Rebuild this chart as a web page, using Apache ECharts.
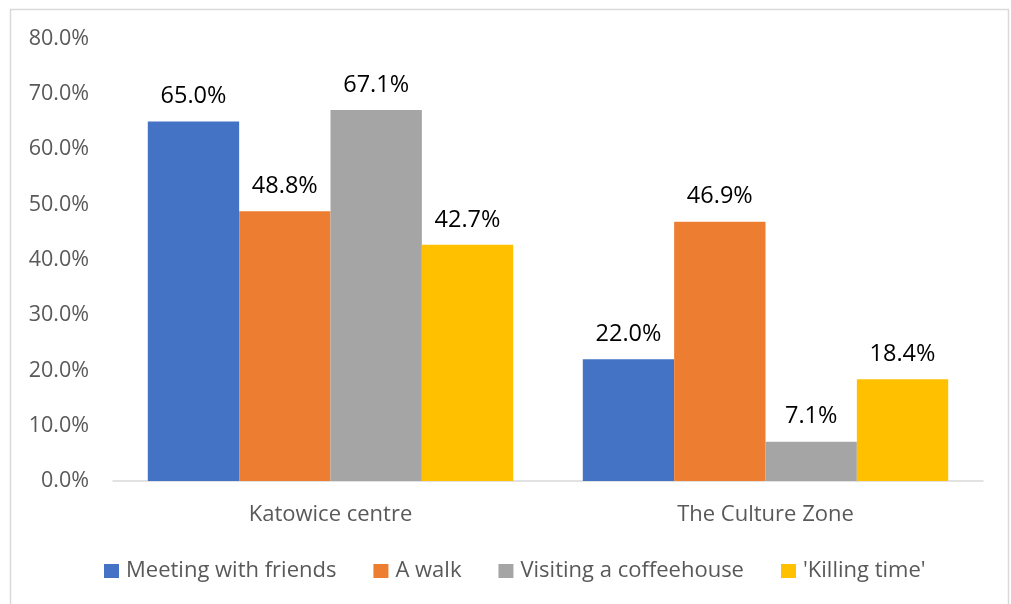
<!DOCTYPE html>
<html>
<head>
<meta charset="utf-8">
<script src="https://cdn.jsdelivr.net/npm/echarts@6/dist/echarts.min.js"></script>
<style>
  html, body { margin: 0; padding: 0; background: #fff; }
  #chart { width: 1011px; height: 604px; }
</style>
</head>
<body>
<div id="chart"></div>
<script>
// Places and activities compared (share of respondents, %)
const categories = ['Katowice centre', 'The Culture Zone'];
const seriesNames = ['Meeting with friends', 'A walk', 'Visiting a coffeehouse', "'Killing time'"];
const meetingWithFriends = [65.0, 22.0];
const aWalk = [48.8, 46.9];
const visitingCoffeehouse = [67.1, 7.1];
const killingTime = [42.7, 18.4];
const colors = ['#4472c4', '#ed7d31', '#a5a5a5', '#ffc000'];

const FONT = '"Open Sans", "Noto Sans", sans-serif';
const values = [meetingWithFriends, aWalk, visitingCoffeehouse, killingTime];

const chart = echarts.init(document.getElementById('chart'), null, { renderer: 'canvas' });

chart.setOption({
  backgroundColor: '#ffffff',
  animation: false,
  textStyle: { fontFamily: FONT },
  graphic: [{
    type: 'rect',
    shape: { x: 10.5, y: 9.5, width: 998, height: 600 },
    style: { fill: 'none', stroke: '#d9d9d9', lineWidth: 1.5 },
    silent: true
  }],
  grid: { left: 113, right: 28, top: 38.6, bottom: 123, containLabel: false },
  legend: {
    top: 555,
    left: 99,
    itemWidth: 15,
    itemHeight: 14,
    itemGap: 37,
    icon: 'rect',
    textStyle: { color: '#595959', fontSize: 22, fontFamily: FONT, padding: [0, 0, 0, 2] },
    data: seriesNames
  },
  xAxis: {
    type: 'category',
    data: categories,
    axisLine: { show: true, lineStyle: { color: '#d9d9d9', width: 1.5 } },
    axisTick: { show: false },
    axisLabel: { color: '#595959', fontSize: 22, fontFamily: FONT, margin: 23 }
  },
  yAxis: {
    type: 'value',
    min: 0,
    max: 80,
    interval: 10,
    axisLine: { show: false },
    axisTick: { show: false },
    splitLine: { show: false },
    axisLabel: {
      color: '#595959',
      fontSize: 21.5,
      fontFamily: FONT,
      margin: 24,
      formatter: v => v.toFixed(1) + '%'
    }
  },
  series: seriesNames.map((name, i) => ({
    name,
    type: 'bar',
    data: values[i],
    barGap: '0%',
    barCategoryGap: '16%',
    itemStyle: { color: colors[i] },
    label: {
      show: true,
      position: 'top',
      distance: 13,
      color: '#000000',
      fontSize: 23.5,
      fontFamily: FONT,
      formatter: p => p.value.toFixed(1) + '%'
    }
  }))
});
</script>
</body>
</html>
